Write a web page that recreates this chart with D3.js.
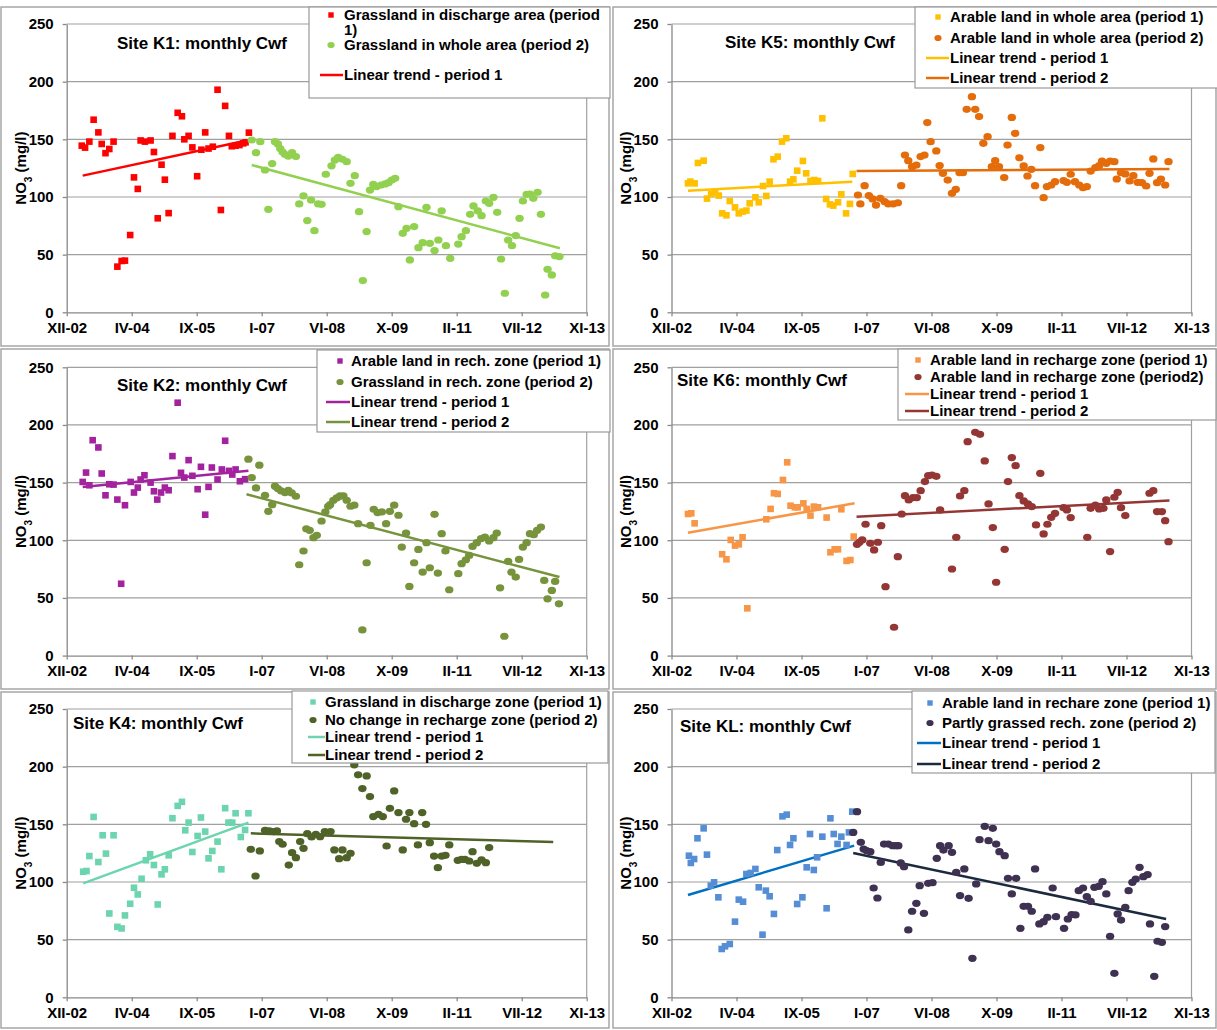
<!DOCTYPE html>
<html lang="en">
<head>
<meta charset="utf-8">
<title>Monthly Cwf - NO3</title>
<script src="https://cdn.jsdelivr.net/npm/d3@7"></script>
<style>
  body, html { margin:0; padding:0; background:#fff; }
  svg { display:block; font-family:"Liberation Sans", Arial, sans-serif; font-weight:bold; }
</style>
</head>
<body>
<svg id="chart" width="1217" height="1030"></svg>
<script>
// x axis: Excel date axis, 9 ticks 500 days apart from mid Dec 2002 (values are decimal years)
var xStart = 2002.953;
var xStep = 500 / 365.25;
var xTickLabels = ['XII-02', 'IV-04', 'IX-05', 'I-07', 'VI-08', 'X-09', 'II-11', 'VII-12', 'XI-13'];
var yTicks = [0, 50, 100, 150, 200, 250];

// ---- Site K1
var k1Period1 = [[2003.27,144.5],[2003.34,142.8],[2003.43,148],[2003.52,167],[2003.62,156],[2003.69,146],[2003.77,138],[2003.85,141.6],[2003.94,148],[2004.02,39.6],[2004.11,44.5],[2004.18,44.8],[2004.29,67],[2004.37,117],[2004.45,107],[2004.51,149],[2004.60,148],[2004.72,149],[2004.79,139],[2004.87,81.5],[2004.95,128],[2005.02,115],[2005.10,86],[2005.18,153],[2005.29,173],[2005.38,170],[2005.43,150],[2005.52,153],[2005.60,143],[2005.70,118],[2005.79,141],[2005.87,156],[2005.94,142],[2006.03,143.6],[2006.13,193],[2006.20,88.7],[2006.29,179],[2006.37,153],[2006.43,144],[2006.51,144.5],[2006.59,145],[2006.67,146.5],[2006.72,147.4],[2006.79,155.8]];
var k1Period2 = [[2006.85,149.4],[2006.94,138.4],[2007.03,148],[2007.13,123.4],[2007.20,89.3],[2007.28,129],[2007.34,148],[2007.40,146],[2007.45,142],[2007.50,139],[2007.55,137],[2007.62,135.5],[2007.70,138.4],[2007.78,135],[2007.85,94],[2007.94,100.9],[2008.02,79.5],[2008.10,97.4],[2008.17,70.8],[2008.25,94],[2008.32,93.6],[2008.41,119.7],[2008.53,127],[2008.60,132],[2008.67,134.4],[2008.76,132.7],[2008.85,130.6],[2008.93,111.8],[2009.02,118.5],[2009.11,87.3],[2009.19,27.5],[2009.27,70],[2009.34,106],[2009.41,111],[2009.48,109],[2009.57,110.4],[2009.66,111.3],[2009.73,112.4],[2009.80,114.7],[2009.87,116.2],[2009.94,91.6],[2010.03,68.5],[2010.11,72.8],[2010.18,45.4],[2010.27,74.3],[2010.36,56],[2010.45,60.4],[2010.53,91],[2010.60,59.8],[2010.70,53.5],[2010.78,62.7],[2010.85,88],[2010.94,57.8],[2011.03,46.8],[2011.20,59.2],[2011.27,65.6],[2011.36,70.8],[2011.45,85],[2011.52,92.2],[2011.61,88],[2011.69,83.8],[2011.78,96.5],[2011.85,94.5],[2011.94,99.7],[2012.02,86.7],[2012.10,46.2],[2012.18,16.5],[2012.25,62.7],[2012.33,57.8],[2012.41,66.5],[2012.49,81.5],[2012.56,96.5],[2012.64,102.3],[2012.71,102.6],[2012.78,98.8],[2012.87,104],[2012.94,85],[2013.03,15],[2013.08,37.3],[2013.17,32.4],[2013.24,49],[2013.33,48.3]];
var k1Trend1 = [[2003.29,118.5],[2006.79,149.4]];
var k1Trend2 = [[2006.85,127.7],[2013.34,55.5]];

// ---- Site K5
var k5Period1 = [[2003.30,111.8],[2003.35,113.3],[2003.44,111.8],[2003.51,129.5],[2003.63,131.5],[2003.70,98.6],[2003.79,102.6],[2003.87,103.8],[2003.95,101.2],[2004.02,85.8],[2004.11,84.1],[2004.18,96.5],[2004.29,91],[2004.37,85.8],[2004.45,87.3],[2004.53,88.2],[2004.60,94.5],[2004.72,99.7],[2004.79,95.4],[2004.88,109.5],[2004.95,100.9],[2005.02,113.3],[2005.10,132.7],[2005.19,135],[2005.28,148],[2005.37,150.9],[2005.45,113.3],[2005.52,115.3],[2005.60,122.8],[2005.72,131.2],[2005.79,120.5],[2005.88,113.9],[2005.96,114.7],[2006.04,113.9],[2006.13,168.2],[2006.21,98.3],[2006.29,93.6],[2006.36,92.5],[2006.46,95.4],[2006.53,102.3],[2006.63,85.8],[2006.71,94],[2006.77,120]];
var k5Period2 = [[2006.88,101.7],[2006.93,94],[2007.02,109.8],[2007.11,101.2],[2007.19,98.3],[2007.26,93],[2007.35,98.8],[2007.44,96],[2007.52,94],[2007.62,94],[2007.72,95],[2007.79,109.8],[2007.87,136.4],[2007.94,131.5],[2008.02,126.3],[2008.11,127.7],[2008.20,135],[2008.28,136.4],[2008.34,164.5],[2008.41,148],[2008.53,139.9],[2008.60,127.2],[2008.67,120.5],[2008.77,114.7],[2008.86,103.2],[2008.94,106.6],[2009.02,121],[2009.09,121],[2009.17,176],[2009.28,187],[2009.35,176],[2009.43,169.7],[2009.52,146.5],[2009.61,152.3],[2009.70,126.3],[2009.77,131.5],[2009.85,126.3],[2009.96,116.8],[2010.03,145],[2010.12,169],[2010.19,155.2],[2010.28,134],[2010.37,126.9],[2010.45,118.2],[2010.53,124],[2010.61,109.8],[2010.72,142.8],[2010.79,99.4],[2010.86,109],[2010.95,110.4],[2011.03,113.3],[2011.21,114.2],[2011.28,112.7],[2011.36,119.7],[2011.45,113.3],[2011.54,110.4],[2011.62,108],[2011.70,109],[2011.78,122.5],[2011.88,125.4],[2011.96,127.2],[2012.02,131.2],[2012.11,129.2],[2012.19,131.2],[2012.28,130.6],[2012.33,115.6],[2012.42,121],[2012.51,120],[2012.60,113.9],[2012.68,118.5],[2012.77,112.7],[2012.86,112.4],[2012.95,109.5],[2013.02,120.5],[2013.10,133],[2013.18,112.4],[2013.26,115.6],[2013.35,110.4],[2013.42,130.6]];
var k5Trend1 = [[2003.30,105.5],[2006.76,113.3]];
var k5Trend2 = [[2006.85,122.5],[2013.44,124.3]];

// ---- Site K2
var k2Period1 = [[2003.29,150.6],[2003.36,158.7],[2003.43,147.7],[2003.50,186.8],[2003.62,180.5],[2003.69,157.9],[2003.77,139],[2003.85,148.6],[2003.94,148.3],[2004.02,135.3],[2004.10,62.3],[2004.18,130.4],[2004.30,150.6],[2004.37,141.4],[2004.45,145.7],[2004.51,152.7],[2004.59,156.4],[2004.72,150],[2004.79,142.5],[2004.86,135.3],[2004.94,141.4],[2005.02,145.7],[2005.10,143.4],[2005.18,173],[2005.29,219.3],[2005.36,158.5],[2005.43,154.4],[2005.52,169.5],[2005.60,155.9],[2005.71,144.3],[2005.78,163.7],[2005.87,122.2],[2005.94,146.3],[2006.01,163.1],[2006.13,152.7],[2006.22,161.4],[2006.29,186.3],[2006.37,160.2],[2006.44,157],[2006.51,161.4],[2006.60,151.2],[2006.71,153]];
var k2Period2 = [[2006.78,170.3],[2006.85,154.4],[2006.94,145.4],[2007.01,165.1],[2007.13,139],[2007.20,125.1],[2007.28,130.9],[2007.34,146.9],[2007.40,144.8],[2007.47,142.8],[2007.55,141.4],[2007.62,143.4],[2007.69,141.1],[2007.78,138.2],[2007.85,78.8],[2007.94,90.7],[2008.00,110],[2008.07,108.6],[2008.15,102.3],[2008.22,104.3],[2008.32,116.7],[2008.40,124.6],[2008.46,129.5],[2008.50,130.9],[2008.57,134.7],[2008.64,136.7],[2008.71,138.5],[2008.78,138.5],[2008.85,134.7],[2008.93,129.5],[2009.01,130.4],[2009.09,114.4],[2009.18,22.3],[2009.27,80.5],[2009.35,113],[2009.42,126.9],[2009.50,124],[2009.59,124.6],[2009.68,114.4],[2009.76,125.1],[2009.85,130.4],[2009.94,121.7],[2010.01,94.1],[2010.10,106.3],[2010.17,60],[2010.27,80.5],[2010.36,92.1],[2010.45,72.4],[2010.53,97.9],[2010.60,76.2],[2010.70,122.5],[2010.77,71.6],[2010.85,105.7],[2010.93,90.7],[2011.01,57.1],[2011.20,71],[2011.27,79.7],[2011.36,83.1],[2011.43,86.9],[2011.50,94.7],[2011.59,97.9],[2011.68,101.4],[2011.76,102.8],[2011.85,99.4],[2011.94,102.3],[2012.01,106.3],[2012.08,58.8],[2012.17,16.8],[2012.25,81.7],[2012.32,72.4],[2012.41,68.1],[2012.48,83.4],[2012.56,94.1],[2012.64,97.9],[2012.71,105.7],[2012.79,104.9],[2012.86,108.6],[2012.94,111.5],[2013.01,65.2],[2013.08,49.2],[2013.17,56.5],[2013.24,64.3],[2013.32,44.9]];
var k2Trend1 = [[2003.29,146.3],[2006.78,160.2]];
var k2Trend2 = [[2006.74,139.9],[2013.33,68.1]];

// ---- Site K6
var k6Period1 = [[2003.30,122.8],[2003.37,123.4],[2003.44,114.7],[2004.02,87.9],[2004.11,83.5],[2004.20,100.3],[2004.29,95.4],[2004.37,96.5],[2004.45,102.6],[2004.55,41],[2004.95,118.2],[2005.04,127.2],[2005.11,140.8],[2005.19,140.2],[2005.30,152.3],[2005.39,167.6],[2005.46,130],[2005.55,128.6],[2005.61,128.6],[2005.73,132],[2005.80,127.2],[2005.88,121.4],[2005.95,129.2],[2006.04,128.6],[2006.22,119.7],[2006.30,89.6],[2006.39,92.2],[2006.46,92.2],[2006.53,126.9],[2006.64,82.1],[2006.72,82.9],[2006.79,103.2]];
var k6Period2 = [[2006.86,96.5],[2006.91,98.3],[2006.97,100.3],[2007.04,113.9],[2007.14,97.4],[2007.22,91.6],[2007.30,98.3],[2007.37,112.7],[2007.46,59.8],[2007.64,24.6],[2007.72,85.8],[2007.80,122.8],[2007.87,138.7],[2007.95,135],[2008.04,137],[2008.12,137],[2008.20,143],[2008.29,150.9],[2008.36,156],[2008.44,156.6],[2008.53,155.5],[2008.61,126.3],[2008.86,75.1],[2008.95,102.6],[2009.03,138.4],[2009.12,143],[2009.19,185.5],[2009.35,193.6],[2009.45,191.9],[2009.55,168.8],[2009.63,131.5],[2009.72,111],[2009.79,63.6],[2009.97,92.2],[2010.04,150.9],[2010.12,171.7],[2010.20,164.7],[2010.28,138.7],[2010.37,134.1],[2010.46,131.5],[2010.54,129.2],[2010.63,113.3],[2010.72,158.1],[2010.79,105.5],[2010.87,113.9],[2010.95,119.9],[2011.03,123.4],[2011.21,128.3],[2011.28,126.3],[2011.36,119.7],[2011.71,102.6],[2011.78,127.7],[2011.88,130.6],[2011.96,127.2],[2012.05,127.7],[2012.11,135],[2012.19,90.2],[2012.28,137.3],[2012.35,141.6],[2012.42,128.3],[2012.51,121.4],[2013.02,140.8],[2013.10,143],[2013.18,124.9],[2013.28,124.9],[2013.35,117],[2013.42,98.8]];
var k6Trend1 = [[2003.30,106.6],[2006.81,132.1]];
var k6Trend2 = [[2006.85,120.5],[2013.44,134.4]];

// ---- Site K4
var k4Period1 = [[2003.30,108.9],[2003.37,109.5],[2003.43,122.5],[2003.52,156.4],[2003.62,117.3],[2003.71,140.5],[2003.78,124.6],[2003.85,72.7],[2003.94,140.5],[2004.02,61.1],[2004.11,59.7],[2004.18,71],[2004.29,81.1],[2004.37,95],[2004.45,89.2],[2004.53,102.8],[2004.62,118.8],[2004.71,124],[2004.79,114.7],[2004.87,80.5],[2004.95,106.6],[2005.02,111],[2005.10,123.1],[2005.18,155.3],[2005.29,166],[2005.38,169.5],[2005.45,144.8],[2005.52,151.5],[2005.60,126],[2005.71,139.9],[2005.78,155.9],[2005.87,143.7],[2005.94,120.5],[2006.02,126.9],[2006.13,135],[2006.21,111],[2006.29,164],[2006.36,151.5],[2006.44,151.5],[2006.51,159.6],[2006.62,139],[2006.71,145.1],[2006.78,159.6]];
var k4Period2 = [[2006.83,128.3],[2006.93,105.2],[2007.02,126.9],[2007.13,144.8],[2007.22,144.3],[2007.31,143.7],[2007.38,144.3],[2007.43,135],[2007.50,132.7],[2007.63,114.7],[2007.70,125.4],[2007.78,121.1],[2007.87,135],[2007.94,129.2],[2008.02,141.9],[2008.11,139],[2008.20,141.4],[2008.29,139.3],[2008.39,143.7],[2008.51,143.7],[2008.59,127.8],[2008.69,120.2],[2008.76,127.8],[2008.85,121.1],[2008.93,124.9],[2009.01,201.6],[2009.09,192.9],[2009.18,181],[2009.27,192],[2009.34,174.1],[2009.41,156.7],[2009.52,158.7],[2009.61,156.7],[2009.69,131.2],[2009.76,163.9],[2009.85,179],[2009.94,160.2],[2010.03,127.8],[2010.10,154.4],[2010.17,160.2],[2010.27,150.6],[2010.35,132.1],[2010.44,160.2],[2010.52,150],[2010.60,134.1],[2010.69,122.5],[2010.77,112.4],[2010.85,122.5],[2010.93,123.1],[2011.01,132.1],[2011.19,118.8],[2011.27,119.6],[2011.34,119.6],[2011.43,118.2],[2011.50,126.3],[2011.59,116.2],[2011.69,119.1],[2011.78,116.7],[2011.85,129.8]];
var k4Trend1 = [[2003.30,98.8],[2006.78,151.5]];
var k4Trend2 = [[2006.83,142.2],[2013.20,134.7]];

// ---- Site KL
var klPeriod1 = [[2003.32,122.8],[2003.36,116.5],[2003.43,119.9],[2003.50,137.9],[2003.63,146.5],[2003.70,123.7],[2003.78,96.8],[2003.85,99.7],[2003.94,86.7],[2004.01,41.9],[2004.08,44.2],[2004.18,46.2],[2004.29,65.6],[2004.37,84.7],[2004.46,82.9],[2004.53,106.9],[2004.62,107.8],[2004.72,111.3],[2004.79,95.4],[2004.87,54.3],[2004.94,92.5],[2005.02,87.6],[2005.11,72.3],[2005.18,127.7],[2005.29,156.9],[2005.38,158.4],[2005.45,132.1],[2005.52,137.9],[2005.60,80.9],[2005.71,86.7],[2005.80,112.7],[2005.87,141.6],[2005.95,110.4],[2006.02,121.4],[2006.13,139.3],[2006.22,77.2],[2006.30,155.2],[2006.37,141.6],[2006.45,133],[2006.53,139.3],[2006.64,132.1],[2006.69,143],[2006.76,161]];
var klPeriod2 = [[2006.78,143],[2006.86,161],[2006.94,134.4],[2007.00,128.6],[2007.06,127.2],[2007.14,126.3],[2007.21,94.8],[2007.29,86.1],[2007.36,117],[2007.43,132.9],[2007.52,132.9],[2007.61,131.5],[2007.68,131.5],[2007.73,131.5],[2007.78,116.5],[2007.85,113.3],[2007.94,58.4],[2008.02,74.6],[2008.11,81.5],[2008.18,96.8],[2008.27,72.8],[2008.36,98.8],[2008.45,99.4],[2008.54,120.5],[2008.61,131.5],[2008.68,127.7],[2008.79,131.5],[2008.86,125.7],[2008.95,108.4],[2009.03,88.2],[2009.12,111.3],[2009.21,85.8],[2009.29,33.8],[2009.37,98.3],[2009.44,136.7],[2009.55,148.3],[2009.63,135.8],[2009.72,146.5],[2009.79,132.9],[2009.86,126.3],[2009.97,122.8],[2010.04,103.2],[2010.12,89.6],[2010.21,103.2],[2010.30,59.8],[2010.37,78.9],[2010.46,78.9],[2010.54,74.6],[2010.61,111.3],[2010.70,63.6],[2010.79,65.6],[2010.87,69.4],[2010.98,94.8],[2011.05,69.9],[2011.22,59.8],[2011.30,67.9],[2011.38,71.7],[2011.46,71.4],[2011.53,92.5],[2011.62,94.8],[2011.70,87.3],[2011.78,83.2],[2011.86,95.4],[2011.95,96.2],[2012.03,100.3],[2012.11,89.6],[2012.19,52.9],[2012.28,20.8],[2012.35,72.3],[2012.42,67],[2012.51,78],[2012.58,92.5],[2012.66,99.7],[2012.73,102.6],[2012.81,112.7],[2012.89,104.6],[2012.98,106.4],[2013.03,63.6],[2013.12,18.2],[2013.19,48.6],[2013.28,47.7],[2013.35,61.3]];
var klTrend1 = [[2003.30,88.7],[2006.80,131.5]];
var klTrend2 = [[2006.78,125.1],[2013.37,67.9]];

var panels = [
  { title: 'Site K1: monthly Cwf', col: 0, row: 0, titleXY: [117, 49],
    p1: k1Period1, p2: k1Period2, t1: k1Trend1, t2: k1Trend2,
    colors: ['#ff0000', '#92d050', '#ff0000', '#92d050'],
    legend: { box: [309, 7, 610, 98], textX: 344, markerX: 331, line: [320, 343],
      items: [ { kind: 'square', c: 0, y: 15, text: ['Grassland in discharge area (period', '1)'] },
               { kind: 'circle', c: 1, y: 45, text: ['Grassland in whole area (period 2)'] },
               { kind: 'line', c: 2, y: 75, text: ['Linear trend - period 1'] } ] } },
  { title: 'Site K5: monthly Cwf', col: 1, row: 0, titleXY: [725, 48],
    p1: k5Period1, p2: k5Period2, t1: k5Trend1, t2: k5Trend2,
    colors: ['#ffc000', '#e46c0a', '#ffc000', '#e46c0a'],
    legend: { box: [915, 7, 1218, 88], textX: 950, markerX: 938, line: [926, 949],
      items: [ { kind: 'square', c: 0, y: 17, text: ['Arable land in whole area (period 1)'] },
               { kind: 'circle', c: 1, y: 38, text: ['Arable land in whole area (period 2)'] },
               { kind: 'line', c: 2, y: 58, text: ['Linear trend - period 1'] },
               { kind: 'line', c: 3, y: 78, text: ['Linear trend - period 2'] } ] } },
  { title: 'Site K2: monthly Cwf', col: 0, row: 1, titleXY: [117, 391],
    p1: k2Period1, p2: k2Period2, t1: k2Trend1, t2: k2Trend2,
    colors: ['#a3239f', '#77933c', '#a3239f', '#77933c'],
    legend: { box: [317, 350, 610, 432], textX: 351, markerX: 340, line: [326, 350],
      items: [ { kind: 'square', c: 0, y: 361, text: ['Arable land in rech. zone (period 1)'] },
               { kind: 'circle', c: 1, y: 382, text: ['Grassland in rech. zone (period 2)'] },
               { kind: 'line', c: 2, y: 402, text: ['Linear trend - period 1'] },
               { kind: 'line', c: 3, y: 422, text: ['Linear trend - period 2'] } ] } },
  { title: 'Site K6: monthly Cwf', col: 1, row: 1, titleXY: [677, 386],
    p1: k6Period1, p2: k6Period2, t1: k6Trend1, t2: k6Trend2,
    colors: ['#f79646', '#943634', '#f79646', '#943634'],
    legend: { box: [898, 349, 1216, 420], textX: 930, markerX: 918, line: [905, 929],
      items: [ { kind: 'square', c: 0, y: 360, text: ['Arable land in recharge zone (period 1)'] },
               { kind: 'circle', c: 1, y: 377, text: ['Arable land in recharge zone (period2)'] },
               { kind: 'line', c: 2, y: 394, text: ['Linear trend - period 1'] },
               { kind: 'line', c: 3, y: 411, text: ['Linear trend - period 2'] } ] } },
  { title: 'Site K4: monthly Cwf', col: 0, row: 2, titleXY: [73, 729],
    p1: k4Period1, p2: k4Period2, t1: k4Trend1, t2: k4Trend2,
    colors: ['#6cd4ae', '#4f6228', '#6cd4ae', '#4f6228'],
    legend: { box: [292, 691, 608, 763], textX: 325, markerX: 313, line: [308, 325],
      items: [ { kind: 'square', c: 0, y: 702, text: ['Grassland in discharge zone (period 1)'] },
               { kind: 'circle', c: 1, y: 720, text: ['No change in recharge zone (period 2)'] },
               { kind: 'line', c: 2, y: 737, text: ['Linear trend - period 1'] },
               { kind: 'line', c: 3, y: 755, text: ['Linear trend - period 2'] } ] } },
  { title: 'Site KL: monthly Cwf', col: 1, row: 2, titleXY: [680, 732],
    p1: klPeriod1, p2: klPeriod2, t1: klTrend1, t2: klTrend2,
    colors: ['#558ed5', '#3f3151', '#0070c0', '#1c2a40'],
    legend: { box: [912, 691, 1215, 773], textX: 942, markerX: 930, line: [917, 941],
      items: [ { kind: 'square', c: 0, y: 703, text: ['Arable land in rechare zone (period 1)'] },
               { kind: 'circle', c: 1, y: 723, text: ['Partly grassed rech. zone (period 2)'] },
               { kind: 'line', c: 2, y: 743, text: ['Linear trend - period 1'] },
               { kind: 'line', c: 3, y: 764, text: ['Linear trend - period 2'] } ] } }
];

var svg = d3.select('#chart');
var frameX = [[1, 609], [613, 1216]];
var frameY = [[7, 346], [349, 689], [692, 1028]];
var plotLeft = [66.7, 671.5];
var plotTop = [24, 367.3, 709];
var plotW = 520, plotH = 288.3;

function drawPanel(p) {
  var g = svg.append('g');
  var fx = frameX[p.col], fy = frameY[p.row];
  g.append('rect')
    .attr('x', fx[0]).attr('y', fy[0]).attr('width', fx[1] - fx[0]).attr('height', fy[1] - fy[0])
    .attr('fill', '#fff').attr('stroke', '#a6a6a6').attr('stroke-width', 1.5);

  var left = plotLeft[p.col], top = plotTop[p.row];
  var x = d3.scaleLinear().domain([xStart, xStart + 8 * xStep]).range([left, left + plotW]);
  var y = d3.scaleLinear().domain([0, 250]).range([top + plotH, top]);

  // gridlines + right border
  g.selectAll('line.grid').data(yTicks.slice(1)).enter().append('line')
    .attr('class', 'grid')
    .attr('x1', left).attr('x2', left + plotW)
    .attr('y1', function(d) { return y(d); }).attr('y2', function(d) { return y(d); })
    .attr('stroke', '#a0a0a0').attr('stroke-width', 1.2);
  g.append('line').attr('x1', left + plotW).attr('x2', left + plotW)
    .attr('y1', top).attr('y2', top + plotH).attr('stroke', '#a0a0a0').attr('stroke-width', 1.2);

  // axes
  var yAxis = d3.axisLeft(y).tickValues(yTicks).tickSize(4).tickSizeOuter(0).tickPadding(9);
  var ga = g.append('g').attr('transform', 'translate(' + left + ',0)').call(yAxis);
  var xAxis = d3.axisBottom(x)
    .tickValues(d3.range(xTickLabels.length).map(function(i) { return xStart + i * xStep; }))
    .tickFormat(function(d, i) { return xTickLabels[i]; })
    .tickSize(4).tickSizeOuter(0).tickPadding(6);
  var gx = g.append('g').attr('transform', 'translate(0,' + (top + plotH) + ')').call(xAxis);
  [ga, gx].forEach(function(a) {
    a.select('.domain').attr('stroke', '#888').attr('stroke-width', 1.3);
    a.selectAll('.tick line').attr('stroke', '#888').attr('stroke-width', 1.3);
    a.selectAll('.tick text').attr('fill', '#000').style('font-size', '15px')
      .style('font-family', '"Liberation Sans", Arial, sans-serif').style('font-weight', 'bold');
  });

  // y label
  var lab = g.append('text')
    .attr('transform', 'translate(' + (left - 46) + ',' + (top + plotH / 2) + ') rotate(-90)')
    .attr('text-anchor', 'middle').attr('dy', '0.35em').style('font-size', '15px');
  lab.append('tspan').text('NO');
  lab.append('tspan').text('3').attr('baseline-shift', 'sub').style('font-size', '10px');
  lab.append('tspan').text(' (mg/l)');

  // title
  g.append('text').attr('x', p.titleXY[0]).attr('y', p.titleXY[1])
    .style('font-size', '17px').text(p.title);

  // trend lines
  var line = d3.line().x(function(d) { return x(d[0]); }).y(function(d) { return y(d[1]); });
  g.append('path').datum(p.t1).attr('d', line).attr('fill', 'none')
    .attr('stroke', p.colors[2]).attr('stroke-width', 2.5);
  g.append('path').datum(p.t2).attr('d', line).attr('fill', 'none')
    .attr('stroke', p.colors[3]).attr('stroke-width', 2.5);

  // period 1: squares
  g.selectAll('rect.p1').data(p.p1).enter().append('rect')
    .attr('class', 'p1')
    .attr('x', function(d) { return x(d[0]) - 3.3; }).attr('y', function(d) { return y(d[1]) - 3.3; })
    .attr('width', 6.6).attr('height', 6.6).attr('fill', p.colors[0]);
  // period 2: circles
  g.selectAll('ellipse.p2').data(p.p2).enter().append('ellipse')
    .attr('class', 'p2')
    .attr('cx', function(d) { return x(d[0]); }).attr('cy', function(d) { return y(d[1]); })
    .attr('rx', 4.2).attr('ry', 3.6).attr('fill', p.colors[1]);

  // legend
  var L = p.legend;
  g.append('rect').attr('x', L.box[0]).attr('y', L.box[1])
    .attr('width', L.box[2] - L.box[0]).attr('height', L.box[3] - L.box[1])
    .attr('fill', '#fff').attr('stroke', '#999').attr('stroke-width', 1.2);
  L.items.forEach(function(it) {
    var col = p.colors[it.c];
    if (it.kind === 'square') {
      g.append('rect').attr('x', L.markerX - 2.7).attr('y', it.y - 2.7)
        .attr('width', 5.4).attr('height', 5.4).attr('fill', col);
    } else if (it.kind === 'circle') {
      g.append('ellipse').attr('cx', L.markerX).attr('cy', it.y)
        .attr('rx', 3.6).attr('ry', 3.1).attr('fill', col);
    } else {
      g.append('line').attr('x1', L.line[0]).attr('x2', L.line[1])
        .attr('y1', it.y).attr('y2', it.y).attr('stroke', col).attr('stroke-width', 2.5);
    }
    it.text.forEach(function(t, k) {
      g.append('text').attr('x', L.textX).attr('y', it.y + k * 15).attr('dy', '0.35em')
        .style('font-size', '15px').text(t);
    });
  });
}

panels.forEach(drawPanel);
</script>
</body>
</html>
